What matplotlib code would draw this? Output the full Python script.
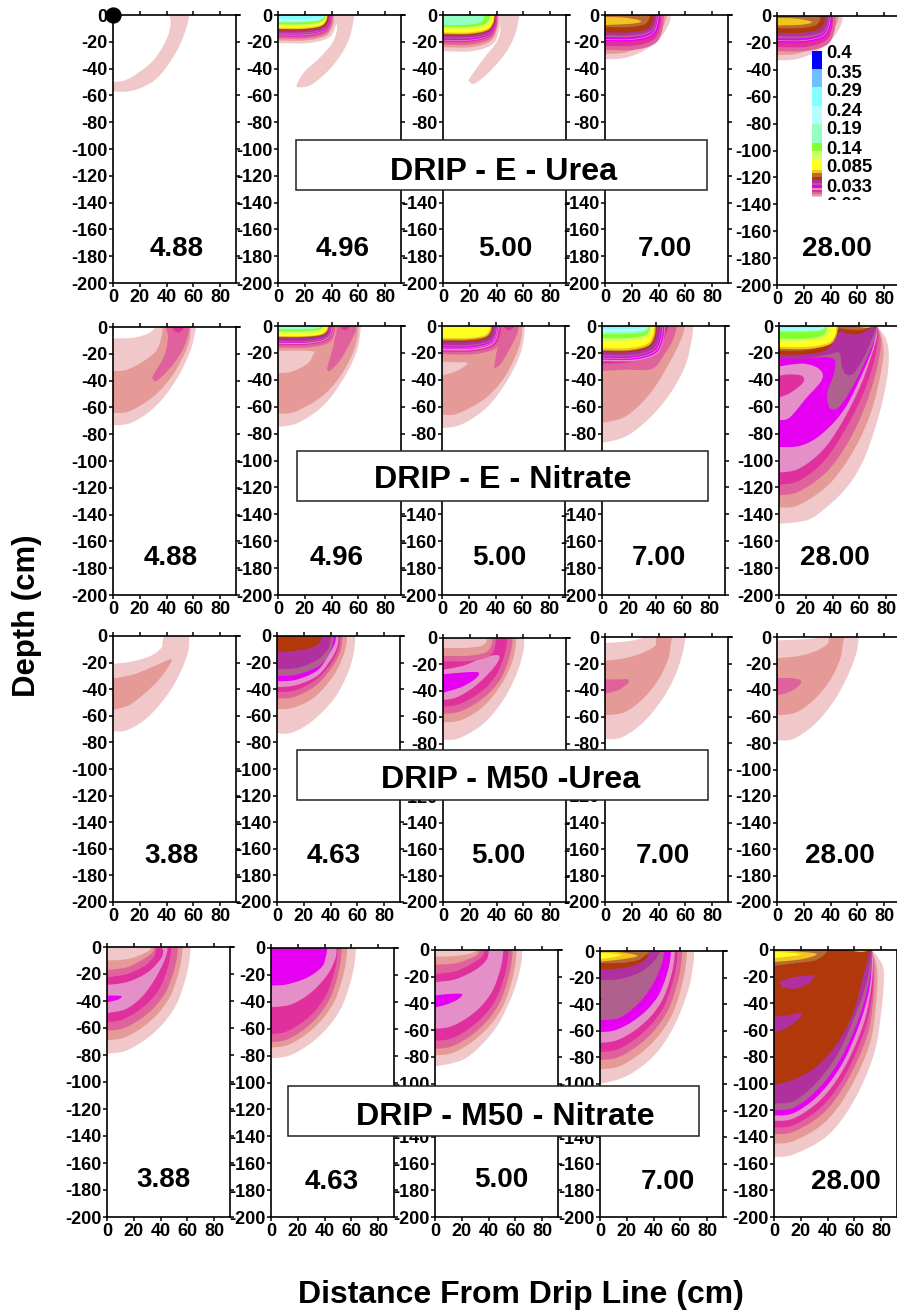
"""
Soil N contours under a drip line, 4 treatments x 5 sampling days.
Contours are traced off the figure: (color, depth, reach) for simple shapes
or (color, [(x, z), ...]) for anything odd.
"""
import matplotlib
matplotlib.use("Agg")
import matplotlib.pyplot as plt
from matplotlib.patches import Rectangle
import numpy as np

plt.rcParams['font.family'] = ['Liberation Sans', 'DejaVu Sans']
plt.rcParams['font.weight'] = 'bold'
plt.rcParams['axes.unicode_minus'] = False

# contour colours, low to high
PK = '#F0C8C9'; SA = '#E59A98'; RO = '#E0629C'; DP = '#E0309E'; OR = '#E48FC8'
MG = '#E600F2'; MV = '#B0608F'; PU = '#B030A0'; BR = '#B0380A'; TN = '#B86A34'
GD = '#F2C41E'; YL = '#FFFF22'; LG = '#D2FF62'; GN = '#84FF30'; MT = '#96FFC4'
PC = '#B4FFFF'; CY = '#84FFFF'; SK = '#70C0FF'; BL = '#0000FF'; WH = '#FFFFFF'

# ---- DRIP - E - Urea
eu_1 = [(PK, [(0, -57), (12, -57), (24, -53), (35, -45), (47, -28), (54, -12), (57, 0)]),
        (WH, [(0, -50), (8, -49), (16, -45), (30, -34), (40, -18), (43, -6), (42, 0)])]
eu_2 = [(PK, [(39, 0), (44, -8), (41, -20), (31, -32), (20, -42), (14, -52), (16, -54),
              (25, -52), (38, -41), (48, -28), (54, -15), (57, 0)]),
        (PK, 21, 44), (SA, 19, 42), (RO, 17.5, 41), (DP, 16, 40), (OR, 15, 39.5),
        (MG, 14.5, 39.5), (MV, 14, 39), (PU, 13, 38.5), (BR, 11.5, 38), (GD, 10.5, 37),
        (YL, 9.5, 36.5), (LG, 8, 36), (GN, 7, 35.5), (MT, 5.5, 35), (PC, 4.5, 34.5),
        (CY, 3, 33), (SK, 0.7, 28)]
eu_3 = [(PK, [(40, 0), (43, -10), (40, -20), (30, -33), (20, -47), (20, -50), (24, -51),
              (35, -42), (47, -28), (54, -14), (57, 0)]),
        (PK, 27, 43), (SA, 24, 41.5), (RO, 22, 41), (DP, 20, 40.5), (OR, 19, 40),
        (MG, 18.5, 40), (MV, 17.5, 39.5), (PU, 16.5, 39.5), (BR, 15, 39), (TN, 14.5, 38.5),
        (GD, 14, 38.5), (YL, 13, 38), (LG, 10, 36.5), (GN, 9, 35), (MT, 7.5, 31)]
eu_4 = [(PK, [(0, -33), (15, -32), (30, -26), (42, -16), (48, -6), (49, 0)]),
        (SA, [(0, -29), (15, -28), (30, -22), (40, -13), (45, -5), (46, 0)]),
        (RO, 26, 44), (DP, 23, 42), (MG, 19.5, 41), (OR, 18.5, 40), (MG, 18, 39.5),
        (MV, 16.5, 39), (PU, 15, 38.5), (BR, 13, 36.5), (TN, 9, 33.5),
        (GD, [(0, -1.5), (15, -2), (27, -4.5), (20, -6.5), (0, -7.5)])]
eu_5 = [(PK, [(0, -33), (15, -32), (30, -26), (42, -16), (48, -6), (49, 0)]),
        (SA, [(0, -29), (15, -28), (30, -22), (40, -13), (45, -5), (46, 0)]),
        (RO, 26, 44), (DP, 23, 42), (MG, 19.5, 41), (OR, 18.5, 40), (MG, 18, 39.5),
        (MV, 16.5, 39), (PU, 15, 38.5), (BR, 12.5, 36), (TN, 9, 32.5),
        (GD, [(0, -1.5), (15, -2), (26, -4.5), (18, -6.5), (0, -7)])]

# ---- DRIP - E - Nitrate
en_1 = [(PK, [(0, -73.5), (15, -71), (33, -58), (48, -38), (58, -17), (62, 0)]),
        (SA, [(0, -64), (12, -63), (30, -52), (43, -38), (52, -23), (57, -10), (58, 0)]),
        (RO, [(39, 0), (41, -8), (38, -22), (30, -36), (30, -39), (33, -40), (44, -29),
              (52, -17), (56, -6), (57, 0)]),
        (DP, [(44, 0), (46, -3), (49, -4), (52, -2), (53, 0)]),
        (PK, [(0, -33), (10, -32), (22, -26), (32, -18), (36, -8), (37, 0)]),
        (WH, [(0, -8.5), (15, -8), (26, -5), (32, 0)])]
en_2 = [(PK, [(0, -75), (15, -72), (34, -59), (49, -39), (59, -18), (62, 0)]),
        (SA, [(0, -65), (12, -64), (32, -53), (46, -38), (55, -22), (59, -10), (60, 0)]),
        (RO, [(40, 0), (42, -8), (41, -16), (37, -30), (37, -33), (39, -33), (46, -26),
              (53, -14), (58, -4), (58, 0)]),
        (DP, [(46, 0), (48, -2.5), (51, -3), (53, -1), (54, 0)]),
        (PK, [(0, -35), (10, -34), (22, -28), (27, -20), (27, -19), (15, -18), (0, -18.5)]),
        (SA, 18, 44), (RO, 16, 43), (DP, 14, 41), (OR, 13.2, 40.5), (MG, 12.5, 40),
        (MV, 12, 39.5), (PU, 11, 39), (BR, 9, 38), (TN, 8.5, 38), (GD, 8, 37.5),
        (YL, 7.5, 37), (LG, 5.5, 35), (GN, 4, 33.5), (MT, 2.5, 32), (CY, 1.5, 30)]
en_3 = [(PK, [(0, -76), (15, -73), (34, -60), (49, -40), (59, -19), (62, 0)]),
        (SA, [(0, -66), (12, -65), (32, -54), (46, -39), (55, -22), (59, -10), (60, 0)]),
        (RO, [(42, 0), (43, -8), (41, -18), (39, -30), (40, -31), (44, -28), (50, -18),
              (56, -6), (57, 0)]),
        (DP, [(46, 0), (48, -2.5), (51, -3), (53, -1), (54, 0)]),
        (PK, [(0, -26.5), (10, -27), (19, -27.5), (12, -33), (0, -37)]),
        (RO, 21, 46), (DP, 19, 44), (OR, 18, 42.5), (MG, 17, 42), (OR, 16.5, 41.5),
        (MG, 16, 41), (MV, 15, 40.5), (PU, 14, 40), (BR, 12, 38), (TN, 11, 37.5),
        (GD, 10, 37), (YL, 9, 36)]
en_4 = [(PK, [(0, -87), (18, -82), (36, -68), (51, -50), (62, -30), (67, -10), (68, 0)]),
        (SA, [(0, -72), (18, -67), (36, -50), (50, -28), (59, -10), (62, 0)]),
        (RO, [(0, -33.5), (18, -32.5), (37, -32), (46, -22), (53, -10), (56, 0)]),
        (DP, [(0, -28), (20, -27), (36, -22), (44, -14), (48, -5), (50, 0)]),
        (OR, 26, 47), (MG, 25, 46.5), (OR, 24, 45.5), (MG, 23.5, 45), (MV, 22.5, 44),
        (PU, 21.5, 43.5), (BR, 19.5, 41), (TN, 18.5, 40.5), (GD, 18, 40), (YL, 16.5, 39),
        (LG, 11, 37), (GN, 9, 36), (MT, 6, 35), (PC, 4, 34), (CY, 2.5, 33), (SK, 0.8, 28)]
en_5 = [(PK, [(0, -147), (12, -146), (26, -142), (48, -123), (62, -102), (72, -75), (79, -48),
              (82, -25), (80, -10), (73, 0)]),
        (SA, [(0, -135), (15, -133), (38, -117), (56, -92), (68, -66), (75, -40), (78, -20),
              (76, -6), (73, 0)]),
        (RO, [(0, -126), (15, -123), (36, -108), (53, -84), (65, -58), (73, -32), (76, -12), (73, 0)]),
        (DP, [(0, -118), (15, -115), (34, -100), (50, -76), (63, -50), (71, -26), (74, -8), (73, 0)]),
        (OR, [(0, -109), (15, -106), (33, -92), (48, -70), (61, -44), (69, -22), (73, -8), (73, 0)]),
        (MG, [(0, -90), (16, -89), (31, -81), (48, -63), (61, -38), (70, -16), (72, -5), (73, 0)]),
        (OR, [(0, -70), (8, -68), (20, -54), (32, -40), (30, -32), (18, -28), (0, -30)]),
        (DP, [(0, -53), (8, -50), (18, -42), (17, -37), (8, -36), (0, -37)]),
        (MV, [(0, -24), (20, -24), (40, -24), (41, -35), (36, -50), (38, -61), (45, -60),
              (55, -45), (65, -25), (72, -8), (73, 0)]),
        (PU, [(0, -24), (20, -24), (38, -21), (45, -20), (47, -30), (50, -36), (56, -35),
              (64, -22), (70, -8), (73, 0)]),
        (BR, [(0, -21.5), (20, -21), (35, -18), (42, -9), (46, -4), (52, -6), (60, -6),
              (66, -3), (72, 0)]),
        (TN, [(0, -18.5), (20, -18), (35, -14), (41, -6), (45, -2), (50, -2.5), (60, -3),
              (66, -1.5), (71, 0)]),
        (GD, 17, 44), (GD, [(58, 0), (65, -1.5), (72, 0)]), (YL, 15.5, 43), (LG, 11, 38),
        (GN, 9.5, 36), (MT, 4.5, 35.5), (PC, 3, 34), (CY, 2, 33), (SK, 0.7, 28)]

# ---- DRIP - M50 - Urea
mu_1 = [(PK, [(0, -71.5), (10, -71), (25, -62), (40, -45), (50, -28), (56, -12), (57, 0)]),
        (WH, [(0, -21), (15, -19), (28, -15), (36, -9), (37, -4), (38, 0)]),
        (SA, [(0, -32), (15, -29), (30, -23), (43, -17.5), (42, -22), (35, -32), (25, -42),
              (12, -52), (0, -55.5)])]
mu_2 = [(PK, [(0, -73), (10, -73), (25, -65), (42, -48), (52, -30), (57, -14), (58.5, 0)]),
        (SA, [(0, -55), (12, -54), (28, -46), (42, -30), (49, -16), (52, -5), (52, 0)]),
        (RO, [(0, -47), (12, -46), (28, -38), (40, -25), (47, -12), (49, 0)]),
        (DP, [(0, -42), (13, -41), (29, -33), (40, -21), (46, -9), (47, 0)]),
        (OR, [(0, -38.5), (14, -37), (30, -30), (40, -18), (45, -8), (46, 0)]),
        (MG, [(0, -34), (14, -33), (30, -26), (38, -15), (43, -6), (44, 0)]),
        (MV, [(0, -30), (15, -29), (32, -22), (40, -11), (42, -3), (42, 0)]),
        (PU, [(0, -25), (15, -24), (30, -18), (38, -10), (40, -3), (40, 0)]),
        (BR, [(0, -12), (15, -11), (28, -8), (33, -3), (33, 0)])]
mu_3 = [(PK, [(0, -77), (12, -76), (30, -65), (45, -47), (55, -27), (60, -10), (60.5, 0)]),
        (SA, [(0, -64), (14, -62), (30, -52), (43, -36), (51, -20), (54, -8), (54.5, 0)]),
        (RO, 57.5, 52, 'b'), (DP, 52, 48, 'b'),
        (OR, [(0, -24), (15, -21), (30, -15), (41, -13), (41, -18), (33, -28), (22, -38),
              (10, -45), (0, -47)]),
        (MG, [(0, -27.5), (10, -26.5), (26, -26), (24, -31), (14, -37), (0, -41.5)]),
        (RO, 17.5, 39.5), (SA, 13.5, 37), (PK, 7.5, 33)]
mu_4 = [(PK, [(0, -77), (12, -76), (28, -65), (42, -48), (52, -30), (58, -12), (60, 0)]),
        (SA, [(0, -59), (14, -57), (28, -47), (40, -32), (47, -17), (49, -6), (50, 0)]),
        (PK, [(0, -18), (15, -16), (28, -12), (37, -7), (38, -3), (38, 0)]),
        (WH, [(0, -4.5), (15, -3.5), (26, -1.5), (30, 0)]),
        (RO, [(0, -32), (10, -32), (17, -32), (17, -35), (10, -40), (0, -43)])]
mu_5 = [(PK, [(0, -78), (12, -77), (28, -66), (42, -49), (52, -31), (59, -13), (61, 0)]),
        (SA, [(0, -59), (14, -57), (28, -47), (40, -32), (47, -17), (49, -6), (50, 0)]),
        (PK, [(0, -16), (15, -14.5), (28, -11), (37, -6), (38.5, -3), (38.5, 0)]),
        (WH, [(0, -2.5), (15, -2), (28, -1), (30, 0)]),
        (RO, [(0, -31), (10, -31), (18, -33), (15, -38), (8, -42), (0, -44)])]

# ---- DRIP - M50 - Nitrate
mn_1 = [(PK, 79, 62.5, 'b'), (SA, 69, 56.5, 'b'), (RO, 62, 53, 'b'), (DP, 55.5, 48, 'b'),
        (OR, [(0, -49), (14, -46), (26, -37), (35, -25), (42, -12), (45, -3), (45, 0)]),
        (MG, [(0, -36), (6, -36), (11, -36.5), (8, -39), (0, -41)]),
        (DP, [(0, -28), (15, -26), (30, -19), (40, -9), (42, -3), (40, 0)]),
        (RO, [(0, -22.5), (15, -20), (28, -14), (35, -7), (37, 0)]),
        (SA, [(0, -17), (15, -15), (27, -9), (34, -4), (35, 0)]),
        (PK, [(0, -10), (15, -9), (27, -5), (32, -2), (33, 0)])]
mn_2 = [(PK, 82, 63.5, 'b'), (SA, 74, 57, 'b'), (RO, 70, 53, 'b'), (DP, 64, 50, 'b'),
        (OR, [(0, -44), (15, -42), (30, -33), (42, -20), (48, -8), (49, 0)]),
        (MG, [(0, -28), (12, -27), (27, -22), (38, -14), (41, -6), (42, 0)])]
mn_3 = [(PK, [(0, -87), (12, -85), (26, -79), (45, -59), (58, -33), (64, -12), (65, 0)]),
        (SA, 79, 61, 'b'), (RO, 74, 58, 'b'), (DP, 68, 55, 'b'), (OR, 59, 51, 'b'),
        (MG, [(0, -34), (10, -33), (20, -33), (17, -37), (8, -41), (0, -43)]),
        (DP, [(0, -24), (15, -22), (30, -15), (38, -8), (40, -2), (40, 0)]),
        (RO, [(0, -18), (15, -16), (28, -10), (35, -5), (37, 0)]),
        (SA, [(0, -11), (15, -10), (27, -6), (32, -3), (33, 0)]),
        (PK, [(0, -5), (15, -4.5), (27, -2.5), (32, 0)])]
mn_4 = [(PK, [(0, -100), (20, -94), (40, -79), (55, -57), (66, -29), (70, -7), (70, 0)]),
        (SA, 89, 65, 'b'), (RO, 82, 61.5, 'b'), (DP, 76, 58, 'b'), (OR, 69, 56, 'b'),
        (MG, 61, 53, 'b'),
        (MV, [(0, -52), (15, -50), (30, -38), (40, -24), (46, -10), (48, 0)]),
        (PU, [(0, -35), (2, -36), (0, -37)]),
        (PU, [(0, -22), (15, -21), (30, -16), (40, -8), (44, -2), (46, 0)]),
        (BR, [(0, -14), (15, -13), (28, -10), (35, -5), (37, 0)]),
        (TN, [(0, -9), (15, -9), (28, -7), (34, -3), (38, 0)]),
        (GD, [(0, -0.5), (15, -1), (28, -3.5), (18, -6), (0, -8)]),
        (YL, [(0, -1.5), (10, -2), (16, -3), (8, -5), (0, -6)])]
mn_5 = [(PK, [(0, -155), (15, -153), (40, -139), (59, -114), (74, -80), (80, -47), (82, -17),
              (78, -6), (73, 0)]),
        (SA, [(0, -145), (15, -143), (38, -129), (56, -105), (71, -72), (76, -42), (77, -15), (73, 0)]),
        (RO, [(0, -138), (15, -136), (37, -122), (54, -99), (69, -66), (74, -38), (75, -12), (73, 0)]),
        (DP, [(0, -133), (15, -131), (36, -117), (53, -94), (67, -62), (73, -35), (74, -12), (73, 0)]),
        (OR, [(0, -128), (15, -126), (35, -112), (52, -89), (66, -58), (72, -32), (74, -10), (73, 0)]),
        (MG, [(0, -124), (15, -122), (34, -108), (51, -85), (64, -55), (71, -30), (73, -10), (73, 0)]),
        (MV, [(0, -120), (15, -118), (33, -104), (50, -81), (63, -52), (70, -28), (73, -8), (73, 0)]),
        (PU, [(0, -115), (15, -113), (32, -99), (48, -77), (61, -48), (69, -25), (72, -8), (73, 0)]),
        (BR, [(0, -101), (15, -97), (32, -87), (47, -70), (59, -47), (67, -18), (71, -3), (73, 0)]),
        (PU, [(4, -24), (12, -21), (26, -19), (30, -20), (26, -25), (16, -29), (6, -28)]),
        (PU, [(0, -50), (10, -49), (21, -47), (18, -52), (10, -58), (0, -62)]),
        (TN, [(0, -12), (15, -10), (30, -8), (37, -4), (40, 0)]),
        (GD, [(0, -0.5), (15, -1), (32, -3), (20, -7), (0, -9)]),
        (GD, [(55, 0), (65, -1.5), (72, 0)]),
        (YL, [(0, -1.5), (12, -2), (20, -3.5), (10, -5), (0, -6)])]

rows = [[eu_1, eu_2, eu_3, eu_4, eu_5],
        [en_1, en_2, en_3, en_4, en_5],
        [mu_1, mu_2, mu_3, mu_4, mu_5],
        [mn_1, mn_2, mn_3, mn_4, mn_5]]

days = [['4.88', '4.96', '5.00', '7.00', '28.00'],
        ['4.88', '4.96', '5.00', '7.00', '28.00'],
        ['3.88', '4.63', '5.00', '7.00', '28.00'],
        ['3.88', '4.63', '5.00', '7.00', '28.00']]

titles = ['DRIP - E - Urea', 'DRIP - E - Nitrate', 'DRIP - M50 -Urea', 'DRIP - M50 - Nitrate']

x_ticks = [0, 20, 40, 60, 80]
y_ticks = [0, -20, -40, -60, -80, -100, -120, -140, -160, -180, -200]

legend_colors = [BL, SK, CY, PC, MT, GN, LG, YL, GD, TN, BR, PU, MV, MG, OR, DP, RO, SA, PK]
legend_labels = ['0.4', '0.35', '0.29', '0.24', '0.19', '0.14', '0.085', '0.033', '0.02']

# ---- layout, in pixels of the 897x1312 image
W, H = 897, 1312
panel_w = 123
px_per_cm = 1.34
lefts = [[113, 278, 443, 605, 777], [113, 278, 442, 602, 779],
         [113, 277, 443, 605, 777], [107, 271, 435, 600, 774]]
tops = [[15, 15, 15, 15, 16], [327, 326, 326, 326, 326],
        [636, 636, 638, 637, 637], [947, 948, 950, 951, 950]]
bottoms = [283, 595, 902, 1217]
bottoms_by_panel = {(0, 4): 285}
day_x = [[177, 343, 505, 665, 837], [171, 337, 499, 659, 835],
         [171, 334, 498, 663, 840], [163, 332, 501, 668, 846]]
day_y = [[249] * 5, [558] * 5, [856] * 5, [1180, 1182, 1180, 1182, 1182]]
box_xy = [(296, 140), (297, 451), (297, 750), (288, 1086)]
box_wh = (411, 50)
title_xy = [(504, 172), (503, 480), (511, 780), (505, 1117)]
legend_edges = [51, 69, 87, 106, 124, 143, 151, 159, 170, 172.7, 177, 180, 183, 185, 188,
                190, 192, 194, 195.5, 196.5]
legend_text_y = [54, 73, 92, 111, 130, 149, 168, 187, 206]

# rounded corner used for the thin surface bands, bowl for the deep ones
CORNER = [(0, 1), (0.5, 1), (0.85, 0.82), (0.97, 0.45), (1, 0)]
BOWL = [(0, 1), (0.2, 0.98), (0.4, 0.90), (0.58, 0.79), (0.72, 0.67), (0.84, 0.52),
        (0.93, 0.32), (0.98, 0.15), (1, 0)]


def outline(item):
    # item -> color, xs, zs
    if isinstance(item[1], list):
        pts = item[1]
    else:
        tmpl = BOWL if len(item) == 4 else CORNER
        pts = [(fx * item[2], -fz * item[1]) for fx, fz in tmpl]
    pts = np.array(pts, dtype=float)
    # catmull-rom through the traced points, ends repeated
    p = np.vstack([pts[:1], pts, pts[-1:]])
    t = np.linspace(0, 1, 12, endpoint=False)[:, None]
    curve = []
    for k in range(1, len(p) - 2):
        a, b, c, d = p[k - 1], p[k], p[k + 1], p[k + 2]
        curve.append(0.5 * (2 * b + (c - a) * t + (2 * a - 5 * b + 4 * c - d) * t ** 2
                            + (3 * b - a - 3 * c + d) * t ** 3))
    out = np.vstack(curve + [pts[-1:]])
    # curve from the axis up to the surface: close through the origin
    if out[0, 0] == 0 and out[-1, 1] == 0:
        out = np.vstack([out, [0, 0]])
    return item[0], out[:, 0], out[:, 1]


fig = plt.figure(figsize=(W / 100, H / 100), dpi=100)

for i in range(4):
    for j in range(5):
        bot = bottoms_by_panel.get((i, j), bottoms[i])
        ax = fig.add_axes([lefts[i][j] / W, 1 - bot / H, panel_w / W, (bot - tops[i][j]) / H])
        for item in rows[i][j]:
            c, xs, zs = outline(item)
            ax.fill(xs, zs, color=c, linewidth=0)
        ax.set_xlim(0, panel_w / px_per_cm)
        ax.set_ylim(-200, 0)
        ax.set_xticks(x_ticks)
        ax.set_yticks(y_ticks)
        ax.tick_params(top=True, right=True, direction='out', length=3, width=1.1,
                       labelsize=13, pad=1)
        for sp in ax.spines.values():
            sp.set_linewidth(1.2)
        # top line runs on a little past the right one
        ax.plot([1, 1.035], [1, 1], transform=ax.transAxes, color='k', lw=1.2, clip_on=False)

fig.axes[0].scatter([0], [0], s=115, color='k', zorder=5, clip_on=False)

# overlay for boxes, legend and big labels
ov = fig.add_axes([0, 0, 1, 1], facecolor='none', zorder=10)
ov.set_xlim(0, W)
ov.set_ylim(H, 0)
ov.axis('off')

for i in range(4):
    for j in range(5):
        ov.text(day_x[i][j], day_y[i][j], days[i][j], fontsize=20, ha='center', va='center')
    ov.add_patch(Rectangle(box_xy[i], box_wh[0], box_wh[1], fc='white', ec='#222222', lw=1.1))
    ov.text(title_xy[i][0], title_xy[i][1], titles[i], fontsize=23.2, ha='center', va='center')

for k, c in enumerate(legend_colors):
    ov.add_patch(Rectangle((812, legend_edges[k]), 10, legend_edges[k + 1] - legend_edges[k],
                           fc=c, ec='none'))
for lab, y in zip(legend_labels, legend_text_y):
    t = ov.text(826, y, lab, fontsize=13.2, ha='left', va='center')
    # the last legend label is cut off in the original
    t.set_clip_on(True)
    t.set_clip_path(Rectangle((800, 40), 97, 160, transform=ov.transData))

ov.text(27, 616, 'Depth (cm)', fontsize=22.4, rotation=90, ha='center', va='center')
ov.text(521, 1295, 'Distance From Drip Line (cm)', fontsize=23, ha='center', va='center')

fig.savefig('out.png', dpi=100)
